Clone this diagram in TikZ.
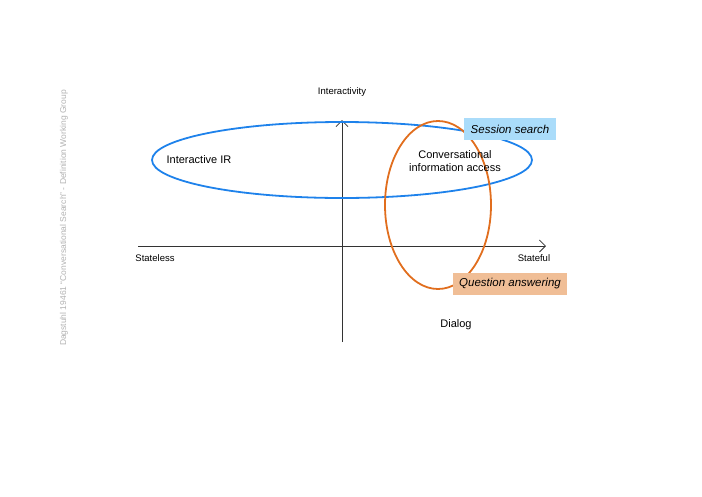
\documentclass[tikz,border=0pt]{standalone}
\usepackage{fontspec}
\usetikzlibrary{arrows.meta}
\setmainfont{Liberation Sans}
\begin{document}
\begin{tikzpicture}[x=1pt,y=-1pt,
  lbl/.style={font=\fontsize{11}{13}\selectfont, align=center},
  ax/.style={font=\fontsize{9.5}{11}\selectfont},
  tag/.style={font=\fontsize{11.5}{13}\selectfont\itshape, minimum height=22pt, inner xsep=4pt}]
\useasboundingbox (0,0) rectangle (702,496);
\definecolor{eblue}{RGB}{30,130,235}
\definecolor{eorange}{RGB}{225,110,30}
\definecolor{tblue}{RGB}{170,220,250}
\definecolor{torange}{RGB}{240,190,150}
\coordinate (xl) at (138,246);
\coordinate (xr) at (546,246);
\coordinate (yb) at (342,342);
\coordinate (yt) at (342,120);
\draw[black!80, ->, >={Straight Barb[length=6pt]}, line width=0.8pt] (xl) -- (xr);
\draw[black!80, ->, >={Straight Barb[length=6pt]}, line width=0.8pt] (yb) -- (yt);
\draw[eblue, line width=1.8pt] (342,160) ellipse [x radius=190, y radius=38];
\draw[eorange, line width=1.8pt] (438,205) ellipse [x radius=53, y radius=84];
\node[ax] (yl) at (342,92) {Interactivity};
\node[ax] (sl) at (155,258) {Stateless};
\node[ax] (sf) at (534,258) {Stateful};
\node[lbl] (dlg) at (456,325) {Dialog};
\node[lbl] (iir) at (199,160) {Interactive IR};
\node[lbl] (cia) at (455,161) {Conversational\\information access};
\node[tag, fill=tblue, minimum width=92pt] (ss) at (510,129) {Session search};
\node[tag, fill=torange, minimum width=114pt] (qa) at (510,283.5) {Question answering};
\node[rotate=90, text=gray!60, font=\fontsize{8.5}{10}\selectfont] (side) at (64,218) {Dagstuhl 19461 “Conversational Search” - Definition Working Group};
\end{tikzpicture}
\end{document}
